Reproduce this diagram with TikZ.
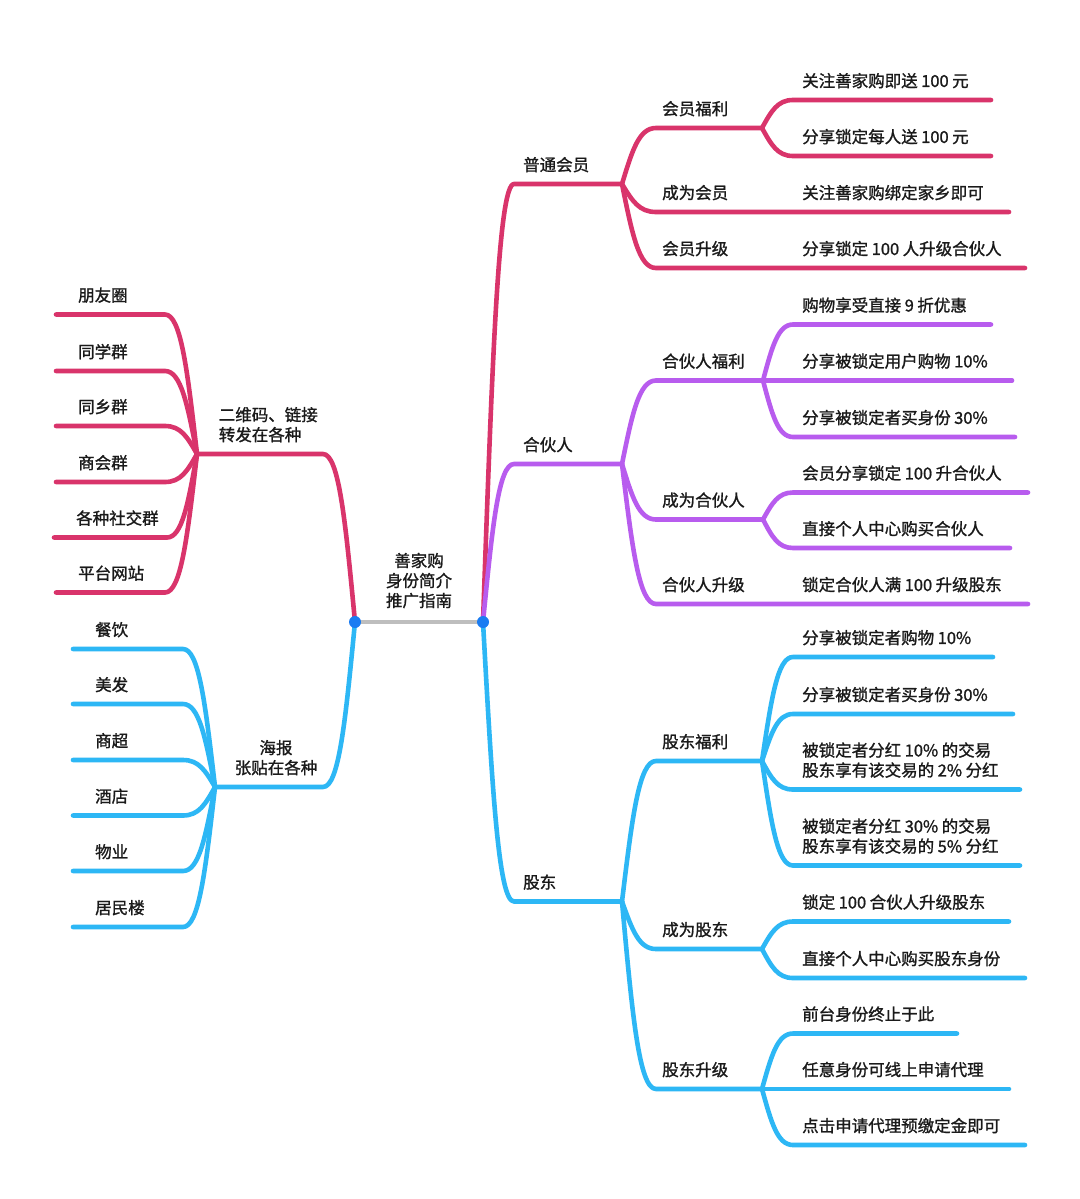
\documentclass[tikz,border=0pt]{standalone}
\usepackage{fontspec}
\setmainfont{Noto Sans CJK SC}[FakeBold=1.2]
\usetikzlibrary{calc}
\definecolor{mag}{HTML}{D9346B}
\definecolor{pur}{HTML}{B85CEE}
\definecolor{sky}{HTML}{2DB7F5}
\definecolor{dotblue}{HTML}{1A7CF2}
\definecolor{bar}{HTML}{BEBEBE}
\definecolor{ink}{HTML}{1A1A1A}
\newcommand\gp{\hspace{3.5pt}}
\tikzset{
  br/.style={to path={let \p1=(\tikztostart), \p2=(\tikztotarget) in
    .. controls ({\x1+0.3*(\x2-\x1)},{\y1+0.6*(\y2-\y1)}) and ({\x1+0.5*(\x2-\x1)},{\y2}) .. (\tikztotarget)}},
  lnk/.style={line width=4.6pt,line cap=round,line join=round},
  lbl/.style={anchor=south west,inner sep=0pt,yshift=1.5pt,align=left,text=ink,font=\fontsize{16.5}{20}\selectfont},
  hub/.style={circle,fill=dotblue,inner sep=0pt,minimum size=12pt}
}
\begin{document}
\begin{tikzpicture}[x=1pt,y=-1pt]
    \useasboundingbox[fill=white] (0,0) rectangle (1079,1199);
    % root
    \coordinate (L) at (355,622);
    \coordinate (R) at (483,622);
    \node[lbl,anchor=south,align=center] (root) at (419,610) {善家购\\身份简介\\推广指南};
    \draw[lnk,bar] (L) -- (R);

    % right: 普通会员
    \coordinate (a-s) at (514,184); \coordinate (a-e) at (622,184);
    \coordinate (a1-s) at (656,128); \coordinate (a1-e) at (762,128);
    \coordinate (a11-s) at (793,100); \coordinate (a11-e) at (991,100);
    \coordinate (a12-s) at (793,156); \coordinate (a12-e) at (991,156);
    \coordinate (a2-s) at (656,212); \coordinate (a2-e) at (762,212);
    \coordinate (a21-s) at (793,212); \coordinate (a21-e) at (1009,212);
    \coordinate (a3-s) at (656,268); \coordinate (a3-e) at (762,268);
    \coordinate (a31-s) at (793,268); \coordinate (a31-e) at (1025,268);
    \node[lbl] (a) at (523,174) {普通会员};
    \node[lbl] (a1) at (662,118) {会员福利};
    \node[lbl] (a11) at (802,90) {关注善家购即送\gp{}100\gp{}元};
    \node[lbl] (a12) at (802,146) {分享锁定每人送\gp{}100\gp{}元};
    \node[lbl] (a2) at (662,202) {成为会员};
    \node[lbl] (a21) at (802,202) {关注善家购绑定家乡即可};
    \node[lbl] (a3) at (662,258) {会员升级};
    \node[lbl] (a31) at (802,258) {分享锁定\gp{}100\gp{}人升级合伙人};
    \draw[lnk,mag] (R) to[br] (a-s) -- (a-e);
    \draw[lnk,mag] (a-e) to[br] (a1-s) -- (a1-e);
    \draw[lnk,mag] (a1-e) to[br] (a11-s) -- (a11-e);
    \draw[lnk,mag] (a1-e) to[br] (a12-s) -- (a12-e);
    \draw[lnk,mag] (a-e) to[br] (a2-s) -- (a2-e) -- (a21-s) -- (a21-e);
    \draw[lnk,mag] (a-e) to[br] (a3-s) -- (a3-e) -- (a31-s) -- (a31-e);

    % right: 合伙人
    \coordinate (b-s) at (514,464); \coordinate (b-e) at (622,464);
    \coordinate (b1-s) at (656,380.5); \coordinate (b1-e) at (763,380.5);
    \coordinate (b11-s) at (793,324.5); \coordinate (b11-e) at (991,324.5);
    \coordinate (b12-s) at (793,380.5); \coordinate (b12-e) at (1012,380.5);
    \coordinate (b13-s) at (793,437); \coordinate (b13-e) at (1015,437);
    \coordinate (b2-s) at (656,519.5); \coordinate (b2-e) at (763,519.5);
    \coordinate (b21-s) at (793,492.5); \coordinate (b21-e) at (1028,492.5);
    \coordinate (b22-s) at (793,548); \coordinate (b22-e) at (1010,548);
    \coordinate (b3-s) at (656,604); \coordinate (b3-e) at (763,604);
    \coordinate (b31-s) at (793,604); \coordinate (b31-e) at (1028,604);
    \node[lbl] (b) at (523,454) {合伙人};
    \node[lbl] (b1) at (662,370.5) {合伙人福利};
    \node[lbl] (b11) at (802,314.5) {购物享受直接\gp{}9\gp{}折优惠};
    \node[lbl] (b12) at (802,370.5) {分享被锁定用户购物\gp{}10\%};
    \node[lbl] (b13) at (802,427) {分享被锁定者买身份\gp{}30\%};
    \node[lbl] (b2) at (662,509.5) {成为合伙人};
    \node[lbl] (b21) at (802,482.5) {会员分享锁定\gp{}100\gp{}升合伙人};
    \node[lbl] (b22) at (802,538) {直接个人中心购买合伙人};
    \node[lbl] (b3) at (662,594) {合伙人升级};
    \node[lbl] (b31) at (802,594) {锁定合伙人满\gp{}100\gp{}升级股东};
    \draw[lnk,pur] (R) to[br] (b-s) -- (b-e);
    \draw[lnk,pur] (b-e) to[br] (b1-s) -- (b1-e);
    \draw[lnk,pur] (b1-e) to[br] (b11-s) -- (b11-e);
    \draw[lnk,pur] (b1-e) -- (b12-s) -- (b12-e);
    \draw[lnk,pur] (b1-e) to[br] (b13-s) -- (b13-e);
    \draw[lnk,pur] (b-e) to[br] (b2-s) -- (b2-e);
    \draw[lnk,pur] (b2-e) to[br] (b21-s) -- (b21-e);
    \draw[lnk,pur] (b2-e) to[br] (b22-s) -- (b22-e);
    \draw[lnk,pur] (b-e) to[br] (b3-s) -- (b3-e) -- (b31-s) -- (b31-e);

    % right: 股东
    \coordinate (c-s) at (514,901.5); \coordinate (c-e) at (622,901.5);
    \coordinate (c1-s) at (656,761); \coordinate (c1-e) at (762,761);
    \coordinate (c11-s) at (793,657); \coordinate (c11-e) at (993,657);
    \coordinate (c12-s) at (793,714); \coordinate (c12-e) at (1013,714);
    \coordinate (c13-s) at (793,789.5); \coordinate (c13-e) at (1020,789.5);
    \coordinate (c14-s) at (793,865.5); \coordinate (c14-e) at (1020,865.5);
    \coordinate (c2-s) at (656,949); \coordinate (c2-e) at (762,949);
    \coordinate (c21-s) at (793,921.5); \coordinate (c21-e) at (1009,921.5);
    \coordinate (c22-s) at (793,978); \coordinate (c22-e) at (1025,978);
    \coordinate (c3-s) at (656,1089); \coordinate (c3-e) at (762,1089);
    \coordinate (c31-s) at (793,1033.5); \coordinate (c31-e) at (957,1033.5);
    \coordinate (c32-s) at (793,1089); \coordinate (c32-e) at (1009,1089);
    \coordinate (c33-s) at (793,1145); \coordinate (c33-e) at (1025,1145);
    \node[lbl] (c) at (523,891.5) {股东};
    \node[lbl] (c1) at (662,751) {股东福利};
    \node[lbl] (c11) at (802,647) {分享被锁定者购物\gp{}10\%};
    \node[lbl] (c12) at (802,704) {分享被锁定者买身份\gp{}30\%};
    \node[lbl] (c13) at (802,779.5) {被锁定者分红\gp{}10\%\gp{}的交易\\股东享有该交易的\gp{}2\%\gp{}分红};
    \node[lbl] (c14) at (802,855.5) {被锁定者分红\gp{}30\%\gp{}的交易\\股东享有该交易的\gp{}5\%\gp{}分红};
    \node[lbl] (c2) at (662,939) {成为股东};
    \node[lbl] (c21) at (802,911.5) {锁定\gp{}100\gp{}合伙人升级股东};
    \node[lbl] (c22) at (802,968) {直接个人中心购买股东身份};
    \node[lbl] (c3) at (662,1079) {股东升级};
    \node[lbl] (c31) at (802,1023.5) {前台身份终止于此};
    \node[lbl] (c32) at (802,1079) {任意身份可线上申请代理};
    \node[lbl] (c33) at (802,1135) {点击申请代理预缴定金即可};
    \draw[lnk,sky] (R) to[br] (c-s) -- (c-e);
    \draw[lnk,sky] (c-e) to[br] (c1-s) -- (c1-e);
    \draw[lnk,sky] (c1-e) to[br] (c11-s) -- (c11-e);
    \draw[lnk,sky] (c1-e) to[br] (c12-s) -- (c12-e);
    \draw[lnk,sky] (c1-e) to[br] (c13-s) -- (c13-e);
    \draw[lnk,sky] (c1-e) to[br] (c14-s) -- (c14-e);
    \draw[lnk,sky] (c-e) to[br] (c2-s) -- (c2-e);
    \draw[lnk,sky] (c2-e) to[br] (c21-s) -- (c21-e);
    \draw[lnk,sky] (c2-e) to[br] (c22-s) -- (c22-e);
    \draw[lnk,sky] (c-e) to[br] (c3-s) -- (c3-e);
    \draw[lnk,sky] (c3-e) to[br] (c31-s) -- (c31-e);
    \draw[lnk,sky] (c3-e) -- (c32-s) -- (c32-e);
    \draw[lnk,sky] (c3-e) to[br] (c33-s) -- (c33-e);

    % left: 二维码、链接
    \coordinate (d-s) at (323,454); \coordinate (d-e) at (197,454);
    \coordinate (d1-s) at (165,314.5); \coordinate (d1-e) at (56,314.5);
    \coordinate (d2-s) at (165,371); \coordinate (d2-e) at (56,371);
    \coordinate (d3-s) at (165,426); \coordinate (d3-e) at (56,426);
    \coordinate (d4-s) at (165,482); \coordinate (d4-e) at (56,482);
    \coordinate (d5-s) at (167,537.5); \coordinate (d5-e) at (54,537.5);
    \coordinate (d6-s) at (165,592.5); \coordinate (d6-e) at (56,592.5);
    \node[lbl,anchor=south east] (d) at (318,444) {二维码、链接\\转发在各种};
    \node[lbl] (d1) at (78,304.5) {朋友圈};
    \node[lbl] (d2) at (78,361) {同学群};
    \node[lbl] (d3) at (78,416) {同乡群};
    \node[lbl] (d4) at (78,472) {商会群};
    \node[lbl] (d5) at (76,527.5) {各种社交群};
    \node[lbl] (d6) at (78,582.5) {平台网站};
    \draw[lnk,mag] (L) to[br] (d-s) -- (d-e);
    \draw[lnk,mag] (d-e) to[br] (d1-s) -- (d1-e);
    \draw[lnk,mag] (d-e) to[br] (d2-s) -- (d2-e);
    \draw[lnk,mag] (d-e) to[br] (d3-s) -- (d3-e);
    \draw[lnk,mag] (d-e) to[br] (d4-s) -- (d4-e);
    \draw[lnk,mag] (d-e) to[br] (d5-s) -- (d5-e);
    \draw[lnk,mag] (d-e) to[br] (d6-s) -- (d6-e);

    % left: 海报
    \coordinate (e-s) at (323,787); \coordinate (e-e) at (215,787);
    \coordinate (e1-s) at (183,649); \coordinate (e1-e) at (73,649);
    \coordinate (e2-s) at (183,704); \coordinate (e2-e) at (73,704);
    \coordinate (e3-s) at (183,760); \coordinate (e3-e) at (73,760);
    \coordinate (e4-s) at (183,815.5); \coordinate (e4-e) at (73,815.5);
    \coordinate (e5-s) at (183,871); \coordinate (e5-e) at (73,871);
    \coordinate (e6-s) at (183,927); \coordinate (e6-e) at (73,927);
    \node[lbl,anchor=south,align=center] (e) at (276,777) {海报\\张贴在各种};
    \node[lbl] (e1) at (95,639) {餐饮};
    \node[lbl] (e2) at (95,694) {美发};
    \node[lbl] (e3) at (95,750) {商超};
    \node[lbl] (e4) at (95,805.5) {酒店};
    \node[lbl] (e5) at (95,861) {物业};
    \node[lbl] (e6) at (95,917) {居民楼};
    \draw[lnk,sky] (L) to[br] (e-s) -- (e-e);
    \draw[lnk,sky] (e-e) to[br] (e1-s) -- (e1-e);
    \draw[lnk,sky] (e-e) to[br] (e2-s) -- (e2-e);
    \draw[lnk,sky] (e-e) to[br] (e3-s) -- (e3-e);
    \draw[lnk,sky] (e-e) to[br] (e4-s) -- (e4-e);
    \draw[lnk,sky] (e-e) to[br] (e5-s) -- (e5-e);
    \draw[lnk,sky] (e-e) to[br] (e6-s) -- (e6-e);

    % hubs on top
    \node[hub] (Ld) at (L) {};
    \node[hub] (Rd) at (R) {};
  \end{tikzpicture}
\end{document}
